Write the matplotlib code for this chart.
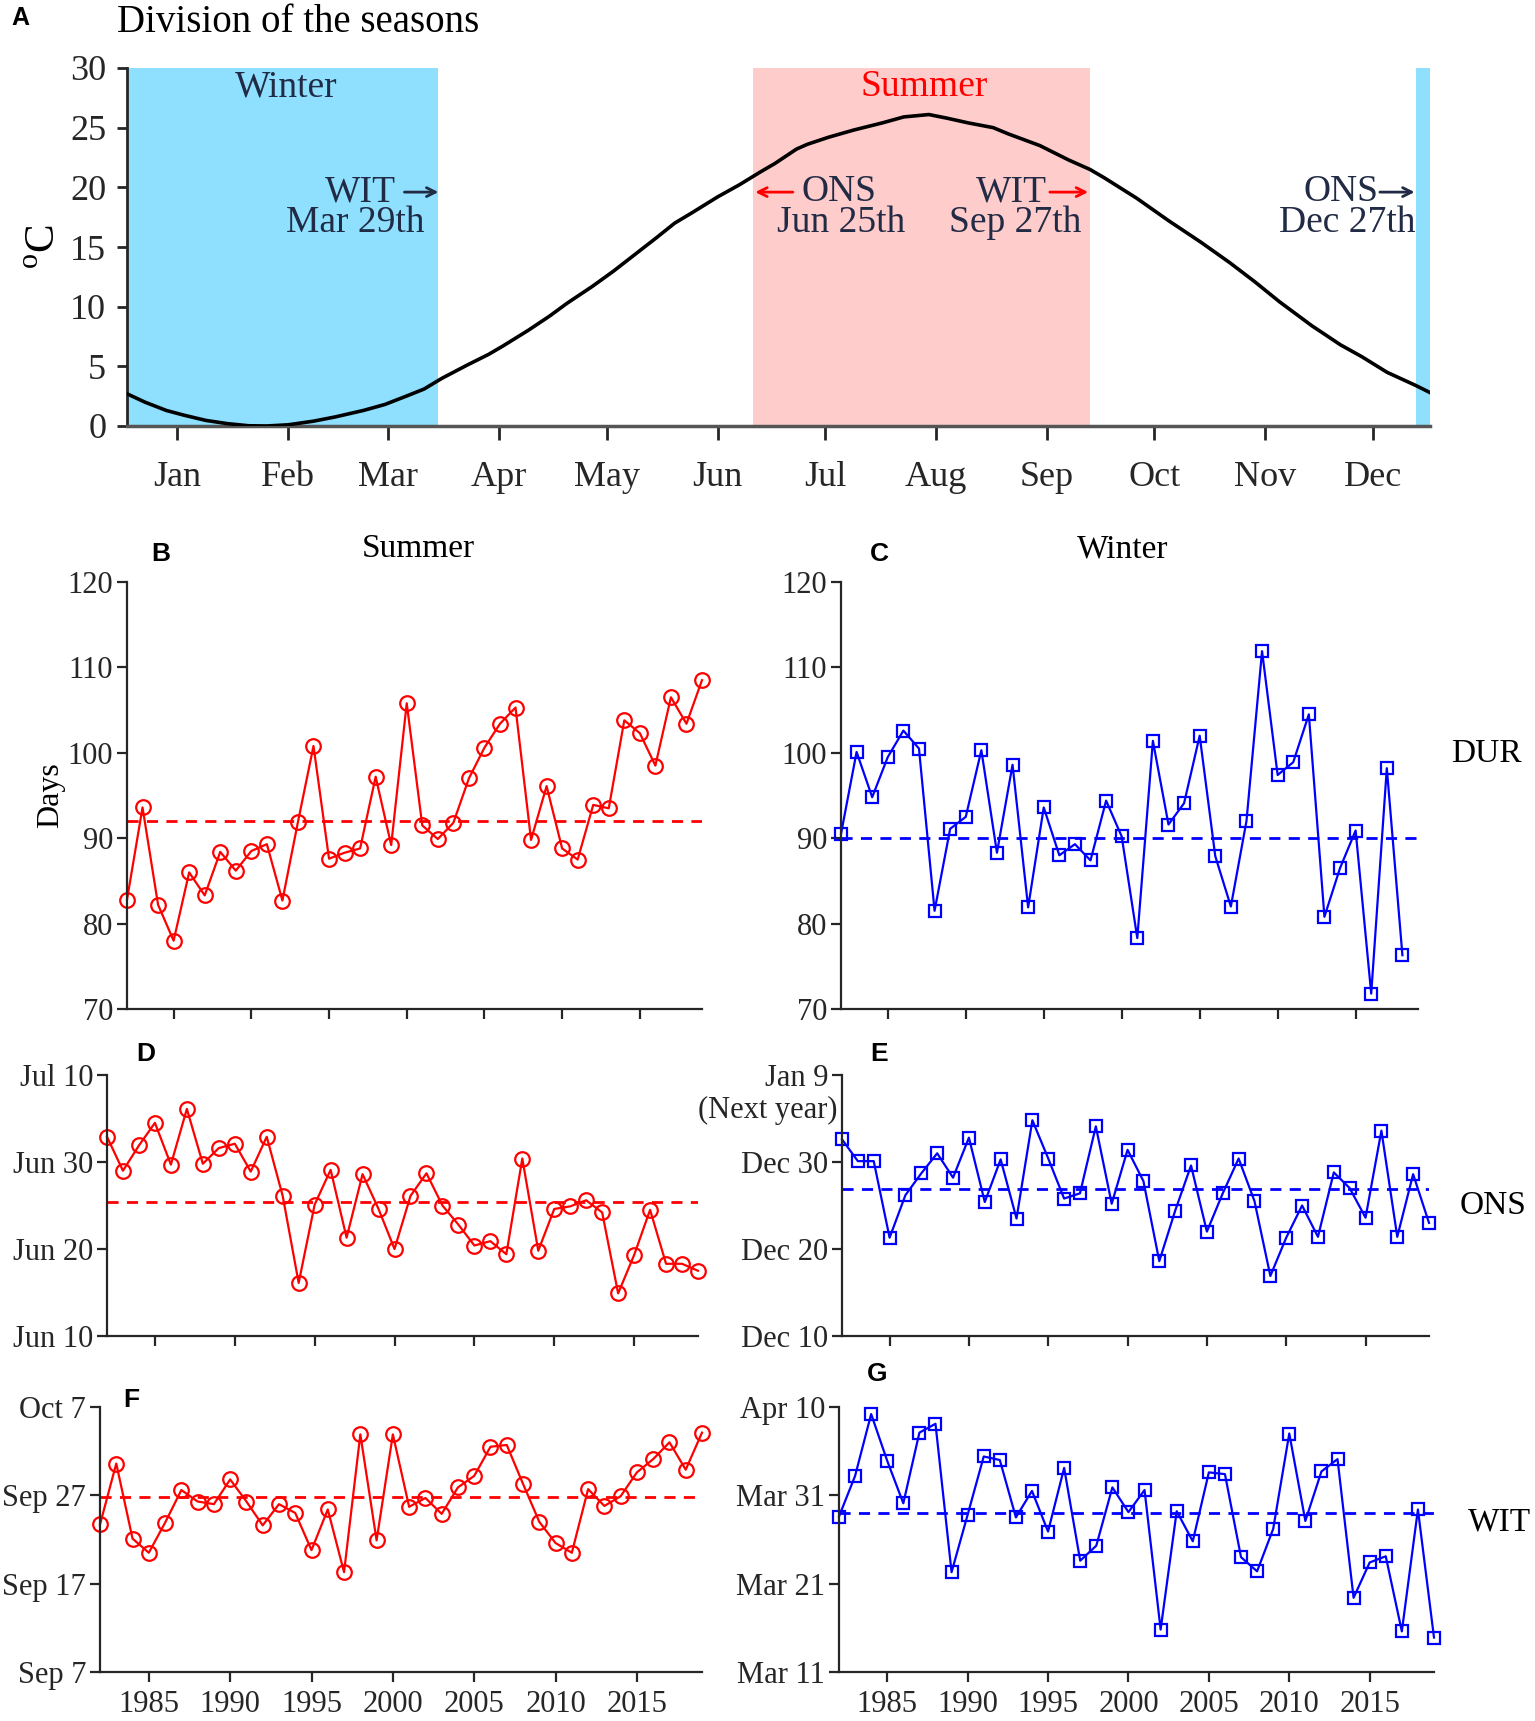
import numpy as np
import matplotlib.pyplot as plt
from matplotlib.transforms import blended_transform_factory

plt.rcParams['font.family'] = ['Liberation Serif', 'DejaVu Serif']
plt.rcParams['mathtext.fontset'] = 'custom'
plt.rcParams['mathtext.rm'] = 'Liberation Serif'

# ---- panel A: climatological daily temperature (day of year, degC)
clim_day = [1, 6, 12, 17, 23, 29, 35, 40, 46, 53, 59, 67, 73, 79, 84, 89, 96, 102, 106,
            113, 119, 124, 131, 137, 143, 149, 154, 159, 166, 172, 178, 182, 186, 188,
            191, 197, 204, 212, 218, 225, 230, 236, 243, 247, 256, 264, 270, 274, 283,
            292, 301, 309, 316, 323, 332, 340, 346, 353, 361, 365]
clim_temp = [2.7, 2.0, 1.3, 0.9, 0.47, 0.2, 0.02, 0.0, 0.1, 0.4, 0.75, 1.3, 1.8, 2.5, 3.1,
             4.0, 5.1, 6.0, 6.7, 8.0, 9.2, 10.3, 11.7, 13.0, 14.4, 15.8, 17.0, 17.9, 19.2,
             20.2, 21.3, 22.0, 22.8, 23.2, 23.6, 24.2, 24.8, 25.4, 25.9, 26.1, 25.8, 25.4,
             25.0, 24.5, 23.5, 22.3, 21.5, 20.8, 19.1, 17.2, 15.4, 13.7, 12.1, 10.4, 8.4,
             6.8, 5.8, 4.5, 3.4, 2.8]
month_labels = ['Jan', 'Feb', 'Mar', 'Apr', 'May', 'Jun', 'Jul', 'Aug', 'Sep', 'Oct', 'Nov', 'Dec']
month_mid_doy = [15, 46, 74, 105, 135, 166, 196, 227, 258, 288, 319, 349]
winter_wit_doy = 88     # Mar 29
summer_ons_doy = 176    # Jun 25
summer_wit_doy = 270    # Sep 27
winter_ons_doy = 361    # Dec 27

# ---- yearly series
years_s = list(range(1982, 2020))
years_w_dur = list(range(1982, 2019))
years_w = list(range(1982, 2020))

summer_dur = [82.8, 93.6, 82.2, 78.0, 86.0, 83.3, 88.4, 86.2, 88.5, 89.3, 82.7, 91.9, 100.8,
              87.6, 88.3, 88.8, 97.2, 89.2, 105.8, 91.5, 89.9, 91.8, 97.0, 100.6, 103.4,
              105.3, 89.8, 96.1, 88.8, 87.5, 93.9, 93.5, 103.8, 102.3, 98.5, 106.5, 103.4, 108.5]
winter_dur = [90.5, 100.1, 94.8, 99.5, 102.6, 100.5, 81.5, 91.1, 92.5, 100.3, 88.3, 98.6,
              81.9, 93.6, 88.0, 89.3, 87.4, 94.4, 90.2, 78.3, 101.4, 91.6, 94.1, 102.0,
              87.9, 82.0, 92.0, 111.9, 97.4, 98.9, 104.5, 80.8, 86.5, 90.9, 71.8, 98.2, 76.3]
# onset, days after Jun 10
summer_ons = [22.9, 19.0, 21.9, 24.5, 19.7, 26.1, 19.8, 21.6, 22.1, 18.9, 22.9, 16.1, 6.1,
              15.1, 19.1, 11.3, 18.6, 14.6, 10.0, 16.1, 18.7, 15.0, 12.8, 10.4, 10.9, 9.4,
              20.4, 9.8, 14.6, 14.9, 15.6, 14.2, 4.9, 9.3, 14.5, 8.3, 8.3, 7.5]
# onset, days after Dec 10
winter_ons = [22.6, 20.1, 20.1, 11.3, 16.2, 18.7, 21.0, 18.2, 22.8, 15.4, 20.3, 13.5, 24.8,
              20.4, 15.8, 16.4, 24.1, 15.2, 21.4, 17.8, 8.6, 14.4, 19.6, 12.0, 16.4, 20.4,
              15.5, 6.9, 11.3, 15.0, 11.4, 18.8, 17.0, 13.6, 23.6, 11.4, 18.6, 13.0]
# withdrawal, days after Sep 7
summer_wit = [16.7, 23.6, 15.1, 13.5, 16.9, 20.6, 19.3, 19.0, 21.8, 19.3, 16.6, 19.0, 18.0,
              13.8, 18.4, 11.3, 26.9, 14.9, 26.9, 18.7, 19.7, 17.9, 20.9, 22.2, 25.5, 25.7,
              21.3, 17.0, 14.6, 13.5, 20.7, 18.8, 19.9, 22.6, 24.1, 26.0, 22.9, 27.1]
# withdrawal, days after Mar 11
winter_wit = [17.6, 22.2, 29.2, 23.9, 19.1, 27.1, 28.1, 11.3, 17.8, 24.4, 24.0, 17.5, 20.5,
              15.9, 23.1, 12.6, 14.3, 20.9, 18.1, 20.6, 4.8, 18.2, 14.8, 22.6, 22.4, 13.0,
              11.4, 16.2, 27.0, 17.1, 22.7, 24.1, 8.4, 12.4, 13.1, 4.6, 18.4, 3.9]

means = {'B': 92.0, 'C': 90.0, 'D': 15.4, 'E': 16.95, 'F': 19.8, 'G': 18.0}

dur_ticks = [70, 80, 90, 100, 110, 120]
ons_s_labels = ['Jun 10', 'Jun 20', 'Jun 30', 'Jul 10']
ons_w_labels = ['Dec 10', 'Dec 20', 'Dec 30', 'Jan 9']
wit_s_labels = ['Sep 7', 'Sep 17', 'Sep 27', 'Oct 7']
wit_w_labels = ['Mar 11', 'Mar 21', 'Mar 31', 'Apr 10']
year_ticks = [1985, 1990, 1995, 2000, 2005, 2010, 2015]

W, H = 1535, 1721
fig = plt.figure(figsize=(W / 100, H / 100), dpi=100)


def box(l, t, r, b):
    return [l / W, 1 - b / H, (r - l) / W, (b - t) / H]


axc = '#262626'
navy = '#222B45'
cyan = '#8FE0FF'
pink = '#FFCCCC'


def style(ax, lw=1.6):
    for s in ['top', 'right']:
        ax.spines[s].set_visible(False)
    for s in ['left', 'bottom']:
        ax.spines[s].set_color(axc)
        ax.spines[s].set_linewidth(lw)
    ax.tick_params(colors=axc, direction='out', width=lw)


# ---------------- panel A
axA = fig.add_axes(box(127, 68, 1430, 426))
style(axA, 2.0)
axA.axvspan(1, winter_wit_doy, color=cyan, lw=0, zorder=0)
axA.axvspan(summer_ons_doy, summer_wit_doy, color=pink, lw=0, zorder=0)
axA.axvspan(winter_ons_doy, 365, color=cyan, lw=0, zorder=0)
axA.plot(clim_day, clim_temp, color='k', lw=2.6, zorder=3, solid_joinstyle='round')
axA.set_xlim(1, 365)
axA.set_ylim(0, 30)
axA.set_yticks(range(0, 31, 5))
axA.set_xticks(month_mid_doy)
axA.set_xticklabels(month_labels)
axA.tick_params(axis='x', length=10, pad=15, labelsize=26)
axA.tick_params(axis='y', length=7, pad=8, labelsize=26)
axA.set_ylabel(r'$^{\mathrm{o}}$C', fontsize=31, labelpad=4)
axA.spines['bottom'].set_color('#555555')
axA.spines['bottom'].set_linewidth(2.5)

fs = 27
axA.text(45.4, 28.4, 'Winter', color=navy, fontsize=fs, ha='center', va='center')
axA.text(223.7, 28.4, 'Summer', color='red', fontsize=fs, ha='center', va='center')
ya, yb = 19.6, 17.0
arrow = dict(arrowstyle='->', lw=2, shrinkA=0, shrinkB=0, mutation_scale=16)
axA.text(76, ya, 'WIT', color=navy, fontsize=fs, ha='right', va='center')
axA.annotate('', xy=(winter_wit_doy, ya), xytext=(78.5, ya), arrowprops=dict(arrow, color=navy))
axA.text(84, yb, 'Mar 29th', color=navy, fontsize=fs, ha='right', va='center')
axA.annotate('', xy=(summer_ons_doy + 0.5, ya), xytext=(187, ya), arrowprops=dict(arrow, color='red'))
axA.text(189.5, ya, 'ONS', color=navy, fontsize=fs, ha='left', va='center')
axA.text(200.5, yb, 'Jun 25th', color=navy, fontsize=fs, ha='center', va='center')
axA.text(258, ya, 'WIT', color=navy, fontsize=fs, ha='right', va='center')
axA.annotate('', xy=(summer_wit_doy - 0.5, ya), xytext=(258.8, ya), arrowprops=dict(arrow, color='red'))
axA.text(249, yb, 'Sep 27th', color=navy, fontsize=fs, ha='center', va='center')
axA.text(350.5, ya, 'ONS', color=navy, fontsize=fs, ha='right', va='center')
axA.annotate('', xy=(winter_ons_doy - 0.3, ya), xytext=(351, ya), arrowprops=dict(arrow, color=navy))
axA.text(361, yb, 'Dec 27th', color=navy, fontsize=fs, ha='right', va='center')

fig.text(117 / W, 1 - 22 / H, 'Division of the seasons', fontsize=28, ha='left', va='center', color='k')
fig.text(11 / W, 1 - 18 / H, 'A', fontsize=18, fontweight='bold', family='Liberation Sans',
         ha='left', va='center')


# ---------------- panels B-G
def series_panel(rect, x, y, color, marker, mean, ms, yticks, ylabels, xlabels):
    ax = fig.add_axes(rect)
    style(ax)
    ax.axhline(mean, color=color, ls=(0, (4, 3)), lw=2, zorder=1)
    ax.plot(x, y, color=color, lw=1.6, marker=marker, ms=ms, mfc='none', mec=color,
            mew=1.6, zorder=2, clip_on=False)
    ax.set_xlim(1982, 2019)
    ax.set_ylim(yticks[0], yticks[-1])
    ax.set_yticks(yticks)
    ax.set_yticklabels(ylabels)
    ax.set_xticks(year_ticks)
    if xlabels:
        ax.set_xticklabels([str(v) for v in year_ticks])
    else:
        ax.set_xticklabels([])
    ax.tick_params(length=7, labelsize=22)
    ax.tick_params(axis='x', pad=6)
    ax.tick_params(axis='y', pad=3)
    return ax


axB = series_panel(box(127, 582, 702, 1009), years_s, summer_dur, 'red', 'o', means['B'], 10.5,
                   dur_ticks, [str(v) for v in dur_ticks], False)
axB.set_ylabel('Days', fontsize=23, labelpad=2)
axC = series_panel(box(841, 582, 1418, 1009), years_w_dur, winter_dur, 'blue', 's', means['C'], 8.5,
                   dur_ticks, [str(v) for v in dur_ticks], False)
axD = series_panel(box(107, 1075, 698, 1336), years_s, summer_ons, 'red', 'o', means['D'], 10.5,
                   [0, 10, 20, 30], ons_s_labels, False)
axE = series_panel(box(842, 1075, 1429, 1336), years_w, winter_ons, 'blue', 's', means['E'], 8.5,
                   [0, 10, 20, 30], ons_w_labels, False)
trE = blended_transform_factory(axE.transAxes, axE.transData)
axE.text(-0.008, 25.9, '(Next year)', transform=trE, fontsize=22, ha='right', va='center', color=axc)
axF = series_panel(box(100, 1407, 702, 1672), years_s, summer_wit, 'red', 'o', means['F'], 10.5,
                   [0, 10, 20, 30], wit_s_labels, True)
axG = series_panel(box(839, 1407, 1434, 1672), years_w, winter_wit, 'blue', 's', means['G'], 8.5,
                   [0, 10, 20, 30], wit_w_labels, True)

fig.text(418 / W, 1 - 549 / H, 'Summer', fontsize=24, ha='center', va='center')
fig.text(1123 / W, 1 - 549 / H, 'Winter', fontsize=24, ha='center', va='center')
fig.text(1486 / W, 1 - 754 / H, 'DUR', fontsize=24, ha='center', va='center')
fig.text(1493 / W, 1 - 1206 / H, 'ONS', fontsize=24, ha='center', va='center')
fig.text(1499 / W, 1 - 1522 / H, 'WIT', fontsize=24, ha='center', va='center')

for lab, xx, yy in [('B', 161, 554), ('C', 879, 554), ('D', 146, 1054),
                    ('E', 879, 1054), ('F', 131, 1400), ('G', 877, 1374)]:
    fig.text(xx / W, 1 - yy / H, lab, fontsize=19, fontweight='bold', family='Liberation Sans',
             ha='center', va='center')

fig.savefig('out.png', dpi=100)
